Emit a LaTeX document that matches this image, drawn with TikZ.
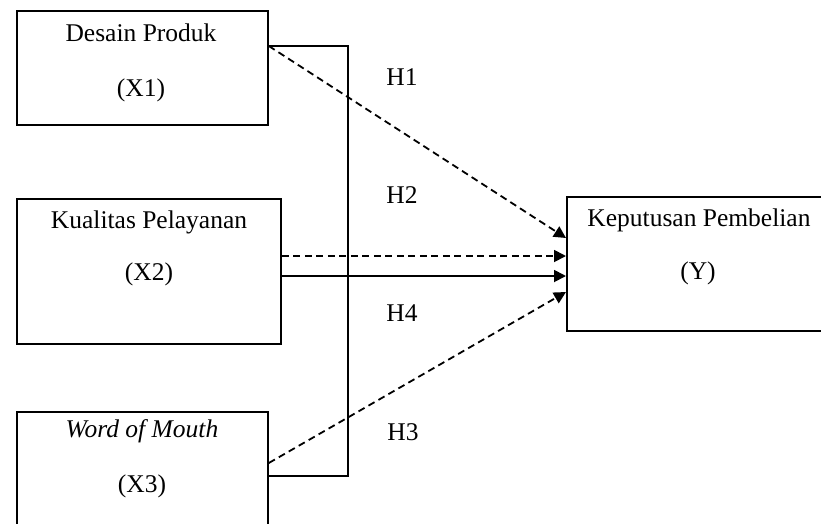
\documentclass[tikz,border=0pt]{standalone}
\usepackage{fontspec}
\setmainfont{Liberation Serif}
\usetikzlibrary{arrows.meta}
\begin{document}
\begin{tikzpicture}[x=1pt,y=-1pt,
  box/.style={draw=black,line width=1.8pt,rectangle,inner sep=0pt,anchor=north west},
  lbl/.style={font=\fontsize{25.5}{30}\selectfont,inner sep=0pt,anchor=center},
  conn/.style={line width=1.8pt,draw=black},
  dsh/.style={conn,dash pattern=on 7pt off 4.5pt},
  arr/.style={-{Triangle[length=12pt,width=12pt]}}
]
\useasboundingbox (0,0) rectangle (821,523);
\clip (0,0) rectangle (821,523);
% boxes
\node[box,minimum width=251pt,minimum height=114pt] (X1) at (16,10) {};
\node[box,minimum width=264pt,minimum height=145pt] (X2) at (16,198) {};
\node[box,minimum width=251pt,minimum height=140pt] (X3) at (16,411) {};
\node[box,minimum width=280pt,minimum height=134pt] (Y) at (566,196) {};
% texts
\node[lbl] (t1a) at (141,33) {Desain Produk};
\node[lbl] (t1b) at (141,90) {(X1)};
\node[lbl] (t2a) at (149,222) {Kualitas Pelayanan};
\node[lbl] (t2b) at (149,274) {(X2)};
\node[lbl] (t3a) at (142,431) {\itshape Word of Mouth};
\node[lbl] (t3b) at (142,486) {(X3)};
\node[lbl] (tya) at (699,220) {Keputusan Pembelian};
\node[lbl] (tyb) at (698,273) {(Y)};
\node[lbl] (h1) at (402,77) {H1};
\node[lbl] (h2) at (402,195) {H2};
\node[lbl] (h4) at (402,313) {H4};
\node[lbl] (h3) at (403,432) {H3};
% bracket
\coordinate (b1) at (348,46);
\coordinate (b2) at (348,476);
\draw[conn] (X1.east |- b1) -- (b1) -- (b2) -- (X3.east |- b2);
% arrows
\coordinate (s1) at (0,46);
\coordinate (e1) at (0,238);
\coordinate (s2) at (0,256);
\coordinate (s3) at (0,276);
\coordinate (s4) at (0,463);
\coordinate (e4) at (0,292);
\draw[dsh,arr] (X1.east |- s1) -- (Y.west |- e1);
\draw[dsh,arr] (X2.east |- s2) -- (Y.west |- s2);
\draw[conn,arr] (X2.east |- s3) -- (Y.west |- s3);
\draw[dsh,arr] (X3.east |- s4) -- (Y.west |- e4);
\end{tikzpicture}
\end{document}
